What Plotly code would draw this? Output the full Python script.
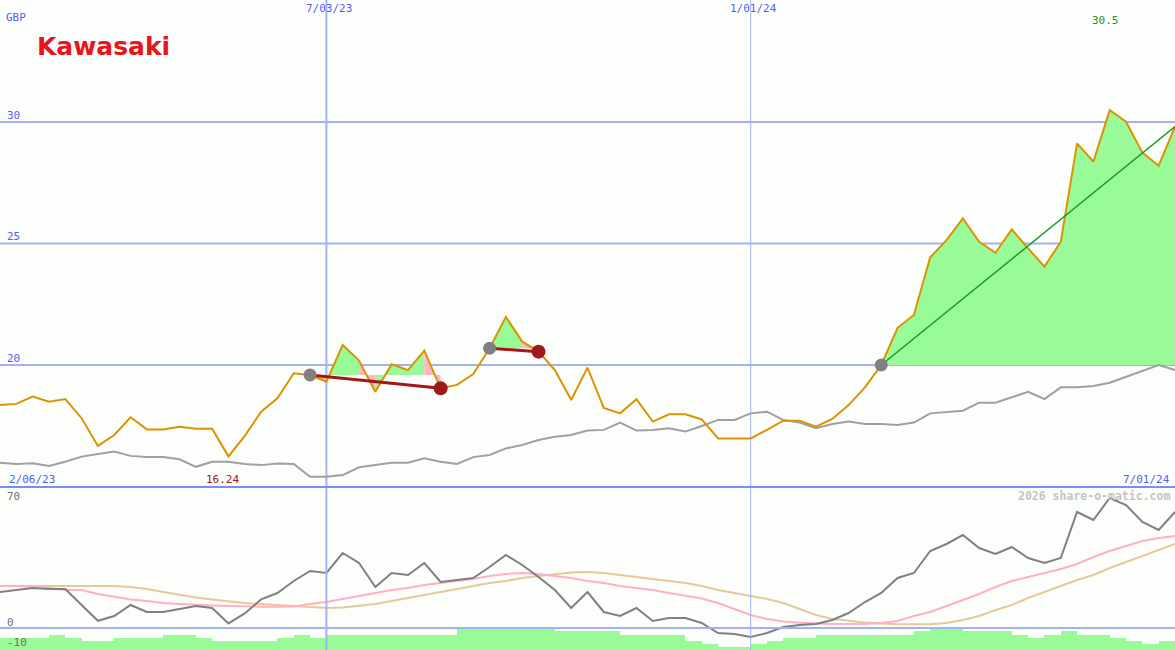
import pandas as pd
import plotly.graph_objects as go

# ---------------- data ----------------
dates = pd.date_range("2023-02-13", periods=73, freq="7D")

price = [18.35, 18.40, 18.70, 18.49, 18.60, 17.81, 16.67, 17.12, 17.85, 17.35,
         17.35, 17.46, 17.38, 17.38, 16.24, 17.08, 18.08, 18.63, 19.66, 19.59,
         19.31, 20.82, 20.18, 18.90, 20.03, 19.79, 20.59, 19.04, 19.18, 19.63,
         20.69, 21.98, 20.96, 20.55, 19.79, 18.56, 19.89, 18.23, 18.01, 18.59,
         17.67, 17.97, 17.97, 17.76, 16.98, 16.98, 16.98, 17.33, 17.71, 17.71,
         17.46, 17.78, 18.35, 19.08, 20.00, 21.53, 22.06, 24.43, 25.14, 26.03,
         25.07, 24.62, 25.58, 24.80, 24.05, 25.07, 29.12, 28.37, 30.49, 30.01,
         28.74, 28.20, 29.81]

relative = [15.98, 15.93, 15.96, 15.84, 16.02, 16.23, 16.34, 16.44, 16.26, 16.21,
            16.21, 16.12, 15.81, 16.02, 16.02, 15.93, 15.88, 15.95, 15.93, 15.40,
            15.40, 15.47, 15.79, 15.88, 15.98, 15.98, 16.16, 16.02, 15.93, 16.21,
            16.30, 16.57, 16.71, 16.91, 17.05, 17.12, 17.30, 17.33, 17.63, 17.30,
            17.33, 17.40, 17.26, 17.49, 17.74, 17.74, 18.01, 18.08, 17.74, 17.63,
            17.40, 17.57, 17.67, 17.57, 17.57, 17.53, 17.63, 18.01, 18.08, 18.12,
            18.45, 18.45, 18.67, 18.90, 18.60, 19.08, 19.08, 19.14, 19.27, 19.52,
            19.77, 20.00, 19.79]

momentum = [18, 19, 20, 19.5, 19.5, 11.5, 3.6, 6, 11.5, 8,
            8, 9.5, 11, 10, 2.3, 7.3, 14.3, 17.5, 23.5, 28.5,
            27.5, 37.5, 32.5, 20.5, 27.5, 26.5, 32.5, 23, 24, 25,
            30.5, 36.5, 31.5, 25.5, 19, 10, 18, 8, 6, 10,
            3.5, 5, 5, 2.5, -2.5, -3, -4.5, -2.5, 0.5, 1.5,
            2, 4, 7.5, 13, 17.5, 25, 27.5, 38.5, 42, 46.5,
            40, 37, 40.5, 35, 32.5, 35, 58, 54, 65, 61.5,
            53, 49, 58]

ma_fast = [21, 21, 20.5, 20, 19, 19, 17, 15.5, 14.25, 13.5,
           12.5, 12, 11.5, 11.25, 11, 10.75, 10.65, 10.65, 10.75, 12,
           13, 14.5, 16, 17.5, 19, 20, 21.5, 22.5, 23.5, 24.5,
           26, 27, 27.5, 27, 26, 25, 23.5, 22.5, 21, 20,
           19, 17.5, 16, 14.75, 12.5, 9.5, 6.5, 4.5, 3.25, 2.65,
           2.25, 2, 2, 2, 2.5, 3.5, 6, 8, 11, 14,
           17, 20.5, 23.5, 25.5, 27.5, 29.5, 32, 35.5, 38.5, 41,
           43.5, 45, 46]

ma_slow = [21, 21, 21, 21, 21, 21, 21, 21, 20.5, 19.5,
           18, 16.5, 15.25, 14.25, 13.25, 12.5, 12, 11.5, 11, 10.5,
           10, 10.25, 11, 12, 13.5, 15, 16.5, 18, 19.5, 21,
           22.5, 23.5, 25, 26, 27, 27.75, 28, 27.5, 26.5, 25.5,
           24.5, 23.5, 22.5, 21, 19, 17.5, 16, 14.5, 12.5, 9.5,
           6.5, 4.5, 3.5, 2.75, 2.25, 1.85, 1.85, 1.9, 2.5, 4,
           6, 9, 11.5, 15, 18, 21, 24, 26.5, 30, 33,
           36, 39, 42]

volume = [12, 12, 12, 15, 12, 9, 9, 12, 12, 12,
          15, 15, 12, 9, 9, 9, 9, 12, 15, 12,
          15, 15, 15, 15, 15, 15, 15, 15, 22, 22,
          22, 22, 22, 22, 19, 19, 19, 19, 15, 15,
          15, 15, 9, 6, 3, 3, 6, 9, 12, 12,
          15, 15, 15, 15, 15, 15, 19, 22, 22, 19,
          19, 19, 15, 12, 15, 19, 15, 15, 12, 9,
          6, 9]

segments = [(19, 27), (30, 33), (54, 72)]       # start/end week index of trend segments
pink_weeks = [19, 22, 26, 32]                     # weeks whose interval is shaded pink
price_ticks = [20, 25, 30]
top_dates = ["2023-07-03", "2024-01-01"]
top_date_labels = ["7/03/23", "1/01/24"]
first_label = "2/06/23"
last_label = "7/01/24"

# ---------------- figure ----------------
W, H = 1175, 650
SPLIT = 487
BG = "#FCFEFB"
ORANGE = "#DD9200"
GREEN_FILL = "#98FB98"
PINK_FILL = "#FFB6C1"
GRID = "#A3B1F3"
MONO = "DejaVu Sans Mono"

def py(v):  # pixel y -> paper
    return 1 - v / H

def px(v):
    return v / W

fig = go.Figure()

# shaded areas between price and segment baseline
gx, gy, kx, ky = [], [], [], []
for s, e in segments:
    base = price[s]
    for k in range(s, e):
        xs = [dates[k], dates[k], dates[k + 1], dates[k + 1], dates[k], None]
        ys = [base, price[k], price[k + 1], base, base, None]
        if k in pink_weeks:
            kx += xs; ky += ys
        else:
            gx += xs; gy += ys
fig.add_trace(go.Scatter(x=gx, y=gy, fill="toself", fillcolor=GREEN_FILL, mode="none",
                         hoverinfo="skip", yaxis="y"))
fig.add_trace(go.Scatter(x=kx, y=ky, fill="toself", fillcolor=PINK_FILL, mode="none",
                         hoverinfo="skip", yaxis="y"))

# relative line & price
fig.add_trace(go.Scatter(x=dates, y=relative, mode="lines",
                         line=dict(color="#A0A0A0", width=2), yaxis="y"))
fig.add_trace(go.Scatter(x=dates, y=price, mode="lines",
                         line=dict(color=ORANGE, width=2), yaxis="y"))

# trend lines
for i, (s, e) in enumerate(segments):
    col = "#1E9A1E" if price[e] > price[s] else "#A01818"
    wid = 1.5 if price[e] > price[s] else 3
    fig.add_trace(go.Scatter(x=[dates[s], dates[e]], y=[price[s], price[e]], mode="lines",
                             line=dict(color=col, width=wid), yaxis="y"))
# markers
starts = [s for s, e in segments]
ends = [e for s, e in segments if price[e] < price[s]]
fig.add_trace(go.Scatter(x=[dates[s] for s in starts], y=[price[s] for s in starts],
                         mode="markers", marker=dict(color="#808080", size=13), yaxis="y"))
fig.add_trace(go.Scatter(x=[dates[e] for e in ends], y=[price[e] for e in ends],
                         mode="markers", marker=dict(color="#A01818", size=14), yaxis="y"))

# lower panel
fig.add_trace(go.Bar(x=dates[:-1], y=volume, width=7 * 24 * 3600 * 1000, offset=0,
                     marker=dict(color=GREEN_FILL, line=dict(width=0)), yaxis="y3"))
fig.add_trace(go.Scatter(x=dates, y=ma_slow, mode="lines",
                         line=dict(color="#E6C99A", width=2), yaxis="y2"))
fig.add_trace(go.Scatter(x=dates, y=ma_fast, mode="lines",
                         line=dict(color="#FFB0C4", width=2), yaxis="y2"))
fig.add_trace(go.Scatter(x=dates, y=momentum, mode="lines",
                         line=dict(color="#808080", width=2), yaxis="y2"))

shapes = []
for t in price_ticks:
    shapes.append(dict(type="line", xref="paper", yref="y", x0=0, x1=1, y0=t, y1=t,
                       line=dict(color=GRID, width=2), layer="below"))
shapes.append(dict(type="line", xref="paper", yref="y2", x0=0, x1=1, y0=0, y1=0,
                   line=dict(color=GRID, width=2), layer="above"))
for d, wdt in zip(top_dates, [2, 1]):
    shapes.append(dict(type="line", xref="x", yref="paper", x0=d, x1=d, y0=py(SPLIT), y1=1,
                       line=dict(color=GRID, width=wdt), layer="below"))
    shapes.append(dict(type="line", xref="x", yref="paper", x0=d, x1=d, y0=0, y1=py(SPLIT),
                       line=dict(color=GRID, width=wdt), layer="above"))
shapes.append(dict(type="line", xref="paper", yref="paper", x0=0, x1=1, y0=py(SPLIT), y1=py(SPLIT),
                   line=dict(color="#7C8CF0", width=2), layer="above"))

BLUE = "#4F5EF2"
ann = []
def A(text, x, y, color, xanchor="left", size=11, family=MONO, bold=False):
    ann.append(dict(text=("<b>%s</b>" % text) if bold else text, xref="paper", yref="paper",
                    x=px(x), y=py(y), xanchor=xanchor, yanchor="middle", showarrow=False,
                    font=dict(family=family, size=size, color=color)))

A("GBP", 4, 18, BLUE)
A("Kawasaki", 103, 46, "#E8141E", xanchor="center", size=25, family="DejaVu Sans", bold=True)
for lbl, d in zip(top_date_labels, top_dates):
    idx = list(dates.strftime("%Y-%m-%d")).index(d)
    A(lbl, idx / 72 * W + 3, 8, BLUE, xanchor="center")
pmax = max(price); pmin = min(price)
A("%.1f" % pmax, price.index(pmax) / 72 * W - 4, 21, "#2A922A", xanchor="center")
A("%.2f" % pmin, price.index(pmin) / 72 * W - 6, 479, "#A01818", xanchor="center")
for t in price_ticks:
    A(str(t), 5, 365 - (t - 20) * 24.3 - 7, BLUE)
A(first_label, 7, 479, BLUE)
A(last_label, 1172, 479, BLUE, xanchor="right")
A("70", 5, 496, "#707070")
A("0", 5, 622, "#707070")
A("-10", 5, 642, "#707070")
A("2026 share-o-matic.com", 1172, 496, "#C4C4C4", xanchor="right", size=11.5, bold=True)

fig.update_layout(
    width=W, height=H, margin=dict(l=0, r=0, t=0, b=0),
    paper_bgcolor=BG, plot_bgcolor=BG, showlegend=False, bargap=0,
    xaxis=dict(type="date", range=[dates[0], dates[-1]], visible=False, fixedrange=True),
    yaxis=dict(domain=[py(SPLIT), 1], range=[20 - (SPLIT - 365) / 24.3, 20 + 365 / 24.3],
               visible=False),
    yaxis2=dict(domain=[0, py(SPLIT)], range=[(628 - 650) / 2, (628 - SPLIT) / 2], visible=False),
    yaxis3=dict(overlaying="y2", range=[0, 650 - SPLIT], visible=False),
    shapes=shapes, annotations=ann,
)
fig.write_html("out.html", config={"displayModeBar": False},
               post_script="document.body.style.margin='0';document.body.style.padding='0';"
                           "document.body.style.overflow='hidden';"
                           "document.body.style.background='%s';" % BG)
